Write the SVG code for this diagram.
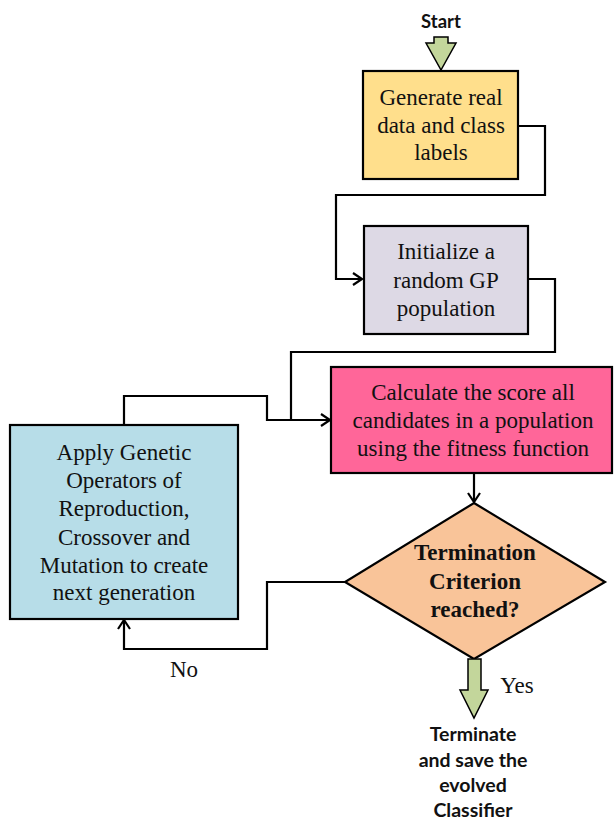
<svg xmlns="http://www.w3.org/2000/svg" width="614" height="824" viewBox="0 0 614 824">
<defs>
<style>
.box{stroke:#000;stroke-width:2.2}
.t{font-family:"Liberation Serif","Times New Roman",serif;font-size:23px;text-anchor:middle;fill:#111}
.tb{font-family:"Liberation Serif","Times New Roman",serif;font-size:23px;font-weight:bold;text-anchor:middle;fill:#111}
.s{font-family:Lato,"Liberation Sans",sans-serif;font-size:19.5px;font-weight:bold;text-anchor:middle;fill:#111}
.c{fill:none;stroke:#000;stroke-width:2.2}
.blk{fill:#C3D69B;stroke:#000;stroke-width:1.5}
</style>
<marker id="ah" markerWidth="12" markerHeight="14" refX="10" refY="7" orient="auto" markerUnits="userSpaceOnUse">
<path d="M1,1 L10,7 L1,13" fill="none" stroke="#000" stroke-width="2.2"/>
</marker>
</defs>
<g id="start">
<text class="s" x="441" y="28" style="font-size:18.5px">Start</text>
<path class="blk" d="M434,37 L448,37 L448,43 L456,43 L441,70 L426,43 L434,43 Z"/>
</g>
<g id="connectors">
<path class="c" d="M518,126 L545,126 L545,195 L336,195 L336,279 L362,279" marker-end="url(#ah)"/>
<path class="c" d="M528,279 L555,279 L555,352 L291,352 L291,420"/>
<path class="c" d="M124,425 L124,396 L267,396 L267,420 L330,420" marker-end="url(#ah)"/>
<path class="c" d="M474,473 L474,502" marker-end="url(#ah)"/>
<path class="c" d="M345,582 L267,582 L267,649 L124,649 L124,620" marker-end="url(#ah)"/>
</g>
<g id="n1">
<rect class="box" x="363" y="71" width="155" height="108" fill="#FFDF8C"/>
<text class="t" x="441" y="105">Generate real</text>
<text class="t" x="441" y="133">data and class</text>
<text class="t" x="441" y="160">labels</text>
</g>
<g id="n2">
<rect class="box" x="364" y="226" width="164" height="108" fill="#DDD9E5"/>
<text class="t" x="446" y="259">Initialize a</text>
<text class="t" x="446" y="288">random GP</text>
<text class="t" x="446" y="316">population</text>
</g>
<g id="n3">
<rect class="box" x="331" y="367" width="281" height="106" fill="#FF6699"/>
<text class="t" x="473" y="400">Calculate the score all</text>
<text class="t" x="473" y="428">candidates in a population</text>
<text class="t" x="473" y="456">using the fitness function</text>
</g>
<g id="n4">
<rect class="box" x="10" y="425" width="228" height="194" fill="#B7DDE8"/>
<text class="t" x="124" y="460">Apply Genetic</text>
<text class="t" x="124" y="488">Operators of</text>
<text class="t" x="124" y="516">Reproduction,</text>
<text class="t" x="124" y="545">Crossover and</text>
<text class="t" x="124" y="573">Mutation to create</text>
<text class="t" x="124" y="600">next generation</text>
</g>
<g id="n5">
<path class="box" d="M474,503 L605,582 L474,659 L345,582 Z" fill="#F9C499"/>
<text class="tb" x="475" y="560">Termination</text>
<text class="tb" x="475" y="589">Criterion</text>
<text class="tb" x="475" y="617">reached?</text>
</g>
<g id="labels">
<text class="t" x="184" y="677">No</text>
<text class="t" x="517" y="693">Yes</text>
</g>
<g id="end">
<path class="blk" d="M468,659 L481,659 L481,690 L488,690 L474,718 L460,690 L468,690 Z"/>
<text class="s" x="473" y="741">Terminate</text>
<text class="s" x="473" y="767">and save the</text>
<text class="s" x="473" y="792">evolved</text>
<text class="s" x="473" y="817">Classifier</text>
</g>
</svg>
